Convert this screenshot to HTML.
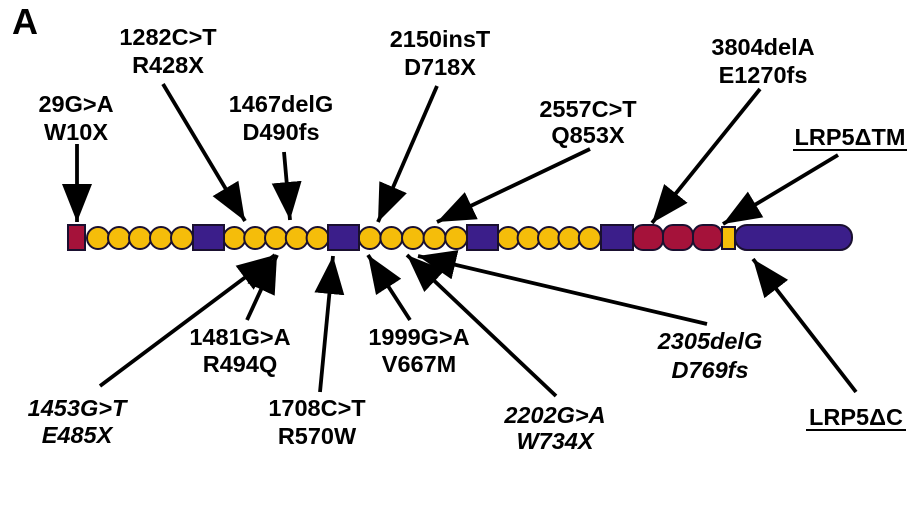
<!DOCTYPE html>
<html><head><meta charset="utf-8"><style>
html,body{margin:0;padding:0;background:#fff;}
svg{display:block;}
text{font-family:"Liberation Sans",Arial,sans-serif;font-weight:bold;font-size:23.5px;fill:#000;text-anchor:middle;}
.i{font-style:italic;}
</style></head><body>
<svg width="914" height="514" viewBox="0 0 914 514" xmlns="http://www.w3.org/2000/svg">
<defs>
<marker id="ah" markerUnits="userSpaceOnUse" markerWidth="42" markerHeight="34" refX="38" refY="15" orient="auto">
<path d="M0,0 L38,15 L0,30 z" fill="#000"/>
</marker>
</defs>
<text x="25" y="34" style="font-size:36px;text-anchor:middle">A</text>

<!-- bar -->
<g stroke="#1a1030" stroke-width="2">
<rect x="68" y="225" width="17" height="25" fill="#a5123a"/>
<g fill="#f5bd0a">
<circle cx="98" cy="238" r="11"/><circle cx="119" cy="238" r="11"/><circle cx="140" cy="238" r="11"/><circle cx="161" cy="238" r="11"/><circle cx="182" cy="238" r="11"/>
<circle cx="234.4" cy="238" r="11"/><circle cx="255.2" cy="238" r="11"/><circle cx="276" cy="238" r="11"/><circle cx="296.8" cy="238" r="11"/><circle cx="317.6" cy="238" r="11"/>
<circle cx="369.8" cy="238" r="11"/><circle cx="391.4" cy="238" r="11"/><circle cx="413" cy="238" r="11"/><circle cx="434.6" cy="238" r="11"/><circle cx="456.2" cy="238" r="11"/>
<circle cx="508.2" cy="238" r="11"/><circle cx="528.6" cy="238" r="11"/><circle cx="549" cy="238" r="11"/><circle cx="569.4" cy="238" r="11"/><circle cx="589.8" cy="238" r="11"/>
</g>
<g fill="#3b1e8a">
<rect x="193" y="225" width="31" height="25"/>
<rect x="328" y="225" width="31" height="25"/>
<rect x="467" y="225" width="31" height="25"/>
<rect x="601" y="225" width="32" height="25"/>
</g>
<g fill="#a5123a">
<rect x="633" y="225" width="30" height="25" rx="10"/>
<rect x="663" y="225" width="30" height="25" rx="10"/>
<rect x="693" y="225" width="29" height="25" rx="10"/>
</g>
<rect x="722" y="227" width="13" height="22" fill="#f5bd0a"/>
<rect x="735" y="225" width="117" height="25" rx="12" fill="#3b1e8a"/>
</g>

<!-- arrows -->
<g stroke="#000" stroke-width="3.8" marker-end="url(#ah)">
<line x1="77" y1="144" x2="77" y2="222"/>
<line x1="163" y1="84" x2="245" y2="221"/>
<line x1="284" y1="152" x2="290" y2="220"/>
<line x1="437" y1="86" x2="378" y2="222"/>
<line x1="590" y1="149" x2="437" y2="222"/>
<line x1="760" y1="89" x2="652" y2="223"/>
<line x1="838" y1="155" x2="723" y2="224"/>
<line x1="100" y1="386" x2="275" y2="255"/>
<line x1="247" y1="320" x2="277" y2="255"/>
<line x1="320" y1="392" x2="333" y2="256"/>
<line x1="410" y1="320" x2="368" y2="255"/>
<line x1="556" y1="396" x2="407" y2="255"/>
<line x1="707" y1="324" x2="418" y2="256"/>
<line x1="856" y1="392" x2="753" y2="259"/>
</g>

<!-- labels -->
<text x="76" y="112">29G&gt;A</text><text x="76" y="140">W10X</text>
<text x="168" y="45">1282C&gt;T</text><text x="168" y="73">R428X</text>
<text x="281" y="112">1467delG</text><text x="281" y="140">D490fs</text>
<text x="440" y="47">2150insT</text><text x="440" y="75">D718X</text>
<text x="588" y="117">2557C&gt;T</text><text x="588" y="143">Q853X</text>
<text x="763" y="55">3804delA</text><text x="763" y="83">E1270fs</text>
<text x="850" y="145">LRP5ΔTM</text>
<line x1="793" y1="150" x2="907" y2="150" stroke="#000" stroke-width="2"/>

<text x="240" y="345">1481G&gt;A</text><text x="240" y="372">R494Q</text>
<text x="419" y="345">1999G&gt;A</text><text x="419" y="372">V667M</text>
<text class="i" x="77" y="416">1453G&gt;T</text><text class="i" x="77" y="443">E485X</text>
<text x="317" y="416">1708C&gt;T</text><text x="317" y="444">R570W</text>
<text class="i" x="555" y="423">2202G&gt;A</text><text class="i" x="555" y="449">W734X</text>
<text class="i" x="710" y="349">2305delG</text><text class="i" x="710" y="378">D769fs</text>
<text x="856" y="425">LRP5ΔC</text>
<line x1="806" y1="430" x2="906" y2="430" stroke="#000" stroke-width="2"/>
</svg>
</body></html>
